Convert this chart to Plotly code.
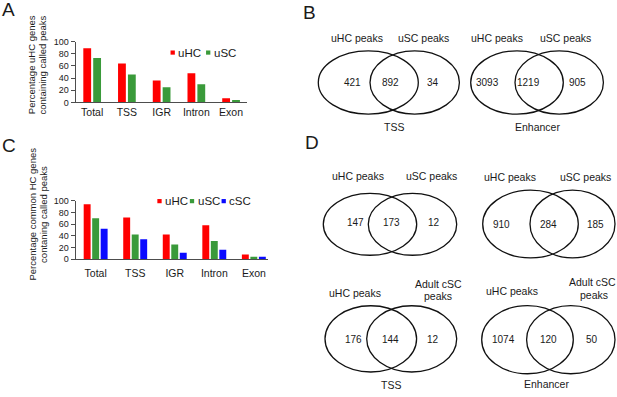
import plotly.graph_objects as go

# ---------------- data ----------------
categories = ["Total", "TSS", "IGR", "Intron", "Exon"]

a_uHC = [89, 64, 36, 48, 7]
a_uSC = [73, 46, 25, 30, 4]

c_uHC = [94, 71, 42, 58, 8]
c_uSC = [70, 42, 25, 31, 4]
c_cSC = [52, 34, 11, 16, 4]

y_ticks = [0, 20, 40, 60, 80, 100]

venn_B_tss = [421, 892, 34]
venn_B_enh = [3093, 1219, 905]
venn_D_tss_usc = [147, 173, 12]
venn_D_enh_usc = [910, 284, 185]
venn_D_tss_csc = [176, 144, 12]
venn_D_enh_csc = [1074, 120, 50]

# ---------------- layout helpers ----------------
W, H = 617, 397
FONT = "Liberation Sans, Arial, sans-serif"
TXT = "#1a1a1a"
RED, GREEN, BLUE = "#ff0000", "#3a9a3a", "#0a0aff"


def px(x):
    return x / W


def py(y):
    return 1 - y / H


fig = go.Figure()

# Panel A bars
fig.add_trace(go.Bar(x=categories, y=a_uHC, marker_color=RED, width=0.225, offset=-0.255,
                     xaxis="x", yaxis="y", showlegend=False))
fig.add_trace(go.Bar(x=categories, y=a_uSC, marker_color=GREEN, width=0.225, offset=0.03,
                     xaxis="x", yaxis="y", showlegend=False))
# Panel C bars
fig.add_trace(go.Bar(x=categories, y=c_uHC, marker_color=RED, width=0.175, offset=-0.303,
                     xaxis="x2", yaxis="y2", showlegend=False))
fig.add_trace(go.Bar(x=categories, y=c_uSC, marker_color=GREEN, width=0.175, offset=-0.088,
                     xaxis="x2", yaxis="y2", showlegend=False))
fig.add_trace(go.Bar(x=categories, y=c_cSC, marker_color=BLUE, width=0.175, offset=0.127,
                     xaxis="x2", yaxis="y2", showlegend=False))

for t in fig.data:
    t.marker.line.width = 0

AX = "#4d4d4d"
xcommon = dict(showgrid=False, zeroline=False, showline=True, linecolor=AX, linewidth=1,
               ticks="", tickfont=dict(family=FONT, size=10.5, color=TXT), fixedrange=True)
ycommon = dict(showgrid=False, zeroline=False, showline=True, linecolor=AX, linewidth=1,
               ticks="outside", ticklen=4, tickcolor=AX, tickwidth=1,
               tickvals=y_ticks, range=[0, 100],
               tickfont=dict(family=FONT, size=9, color=TXT), fixedrange=True)

fig.update_layout(
    width=W, height=H,
    margin=dict(l=0, r=0, t=0, b=0),
    paper_bgcolor="white", plot_bgcolor="rgba(0,0,0,0)",
    barmode="overlay",
    xaxis=dict(domain=[px(75.5), px(246.7)], range=[-0.48, 4.45], anchor="y", **xcommon),
    yaxis=dict(domain=[py(100), py(37.5)], anchor="x", **ycommon),
    xaxis2=dict(domain=[px(75.5), px(267.7)], range=[-0.51, 4.35], anchor="y2",
                ticklabelstandoff=4, **xcommon),
    yaxis2=dict(domain=[py(260.7), py(200.7)], anchor="x2", **ycommon),
)

shapes = []
annotations = []


def text(x, y, s, size=10.5, xanchor="center", yanchor="middle", angle=0, color=TXT):
    annotations.append(dict(x=px(x), y=py(y), xref="paper", yref="paper", text=s,
                            showarrow=False, xanchor=xanchor, yanchor=yanchor,
                            textangle=angle, font=dict(family=FONT, size=size, color=color)))


def square(cx, cy, s, color):
    shapes.append(dict(type="rect", xref="paper", yref="paper",
                       x0=px(cx - s / 2), x1=px(cx + s / 2), y0=py(cy + s / 2), y1=py(cy - s / 2),
                       fillcolor=color, line=dict(width=0)))


def ellipse(cx, cy, rx, ry):
    shapes.append(dict(type="circle", xref="paper", yref="paper",
                       x0=px(cx - rx), x1=px(cx + rx), y0=py(cy + ry), y1=py(cy - ry),
                       line=dict(color="#111111", width=1.3), fillcolor="rgba(0,0,0,0)"))


# panel letters
text(-0.5, 4.5, "A", size=19, xanchor="left")
text(300.5, 7.5, "B", size=19, xanchor="left")
text(-0.5, 144.5, "C", size=19, xanchor="left")
text(302.5, 141.5, "D", size=19, xanchor="left")

# y titles
text(32.2, 61.5, "Percentage uHC genes", size=9.5, angle=-90)
text(42.5, 61.5, "containing called peaks", size=9.5, angle=-90)
text(33, 215, "Percentage common HC genes", size=9.5, angle=-90)
text(43.3, 215, "contaning called peaks", size=9.5, angle=-90)

# legends
square(172.7, 48.8, 4.3, RED)
text(176.2, 48.8, "uHC", size=11.5, xanchor="left")
square(208.2, 48.8, 4.3, GREEN)
text(211.8, 48.8, "uSC", size=11.5, xanchor="left")

square(159.5, 201.2, 4.3, RED)
text(162.8, 201.2, "uHC", size=11.5, xanchor="left")
square(192.0, 201.2, 4.3, GREEN)
text(195.5, 201.2, "uSC", size=11.5, xanchor="left")
square(223.7, 201.2, 4.3, BLUE)
text(227.2, 201.2, "cSC", size=11.5, xanchor="left")

# venn diagrams: (counts, left ellipse, right ellipse, number positions, labels)
venns = [
    (venn_B_tss, (368.3, 79.5, 50.0, 32.5), (414.7, 79.5, 44.7, 32.5),
     [(352.3, 80), (390.7, 80), (432.7, 80)],
     [(356.7, 33.5, "uHC peaks"), (423.3, 33.5, "uSC peaks"), (394, 125.5, "TSS")]),
    (venn_B_enh, (517.0, 79.5, 46.3, 32.5), (559.2, 79.5, 44.2, 32.5),
     [(487.3, 80), (528.3, 80), (577.7, 80)],
     [(496.7, 33.5, "uHC peaks"), (565, 33.5, "uSC peaks"), (537.3, 125.5, "Enhancer")]),
    (venn_D_tss_usc, (370.0, 225.0, 46.7, 31.7), (412.5, 225.0, 44.2, 31.7),
     [(355.7, 223), (391.7, 223), (434, 223)],
     [(357.5, 175, "uHC peaks"), (431.7, 175, "uSC peaks")]),
    (venn_D_enh_usc, (530.5, 224.7, 47.8, 34.7), (572.5, 224.7, 42.5, 34.7),
     [(501.7, 225), (548.3, 225), (595, 225)],
     [(510, 176.7, "uHC peaks"), (585, 176.7, "uSC peaks")]),
    (venn_D_tss_csc, (370.8, 342.5, 45.8, 34.0), (411.7, 342.5, 45.0, 34.0),
     [(353.3, 342.7), (390, 342.7), (433.3, 342.7)],
     [(355, 295, "uHC peaks"), (438.3, 286, "Adult cSC"), (438.3, 298.5, "peaks"),
      (390.7, 389.5, "TSS")]),
    (venn_D_enh_csc, (527.5, 343.3, 45.8, 35.0), (570.8, 343.3, 44.2, 35.0),
     [(503.3, 343), (548.3, 343), (591.7, 343)],
     [(512.3, 293, "uHC peaks"), (592.5, 284.5, "Adult cSC"), (594, 297, "peaks"),
      (546.7, 388.8, "Enhancer")]),
]

for counts, e1, e2, npos, labels in venns:
    ellipse(*e1)
    ellipse(*e2)
    for (x, y), v in zip(npos, counts):
        text(x, y, str(v), size=10)
    for x, y, s in labels:
        text(x, y, s, size=10.5)

fig.update_layout(shapes=shapes, annotations=annotations)

fig.write_html(
    "out.html",
    config={"displayModeBar": False},
    post_script="document.body.style.margin='0';document.body.style.padding='0';"
                "document.body.style.overflow='hidden';",
)
